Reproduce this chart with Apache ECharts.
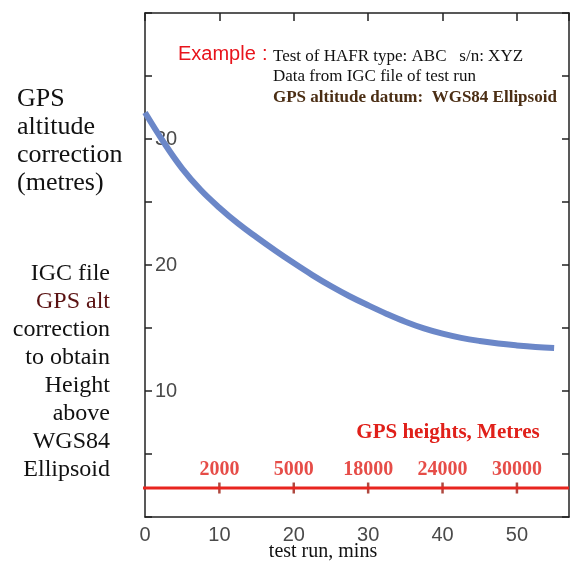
<!DOCTYPE html>
<html>
<head>
<meta charset="utf-8">
<script src="https://cdn.jsdelivr.net/npm/echarts@6/dist/echarts.min.js"></script>
<style>html,body{margin:0;padding:0;background:#fff}#c{width:572px;height:565px}</style>
</head>
<body>
<div id="c"></div>
<script>
// ---- data ----
const timeMins = [0, 2.5, 5, 7.5, 10, 12.5, 15, 17.5, 20, 22.5, 25, 27.5, 30, 32.5, 35, 37.5, 40, 42.5, 45, 47.5, 50, 52.5, 55];
const gpsCorrection = [32.1, 29.75, 27.65, 25.95, 24.55, 23.3, 22.2, 21.15, 20.15, 19.2, 18.32, 17.52, 16.8, 16.12, 15.5, 14.97, 14.55, 14.22, 13.97, 13.77, 13.62, 13.5, 13.42];
const heightTimes = [10, 20, 30, 40, 50];
const heightLabels = ['2000', '5000', '18000', '24000', '30000'];
const heightLineLevel = 2.3;
const heightLineX = [-0.4, 57];
const yLabelValues = [10, 20, 30];
const xTicks = [0, 10, 20, 30, 40, 50];
const titleLines = ['Test of HAFR type: ABC   s/n: XYZ', 'Data from IGC file of test run', 'GPS altitude datum:  WGS84 Ellipsoid'];
const leftTopLines = ['GPS', 'altitude', 'correction', '(metres)'];
const leftBottomLines = ['IGC file', 'GPS alt', 'correction', 'to obtain', 'Height', 'above', 'WGS84', 'Ellipsoid'];

const serif = '"Liberation Serif", "DejaVu Serif", serif';
const sans = '"Liberation Sans", Arial, sans-serif';

const chart = echarts.init(document.getElementById('c'), null, {renderer: 'canvas'});

const frame = {show: true, onZero: false, lineStyle: {color: '#222', width: 1.5}};
const tick = {show: true, inside: true, length: 7, lineStyle: {color: '#222', width: 1.5}};

const graphics = [];
graphics.push({type: 'text', left: 178, top: 44, style: {text: 'Example', font: '20px ' + sans, fill: '#e8141c'}});
graphics.push({type: 'text', left: 262, top: 44, style: {text: ':', font: '20px ' + sans, fill: '#e8141c'}});
titleLines.forEach((t, i) => {
  graphics.push({type: 'text', x: 273, y: 56.5 + i * 20.5, style: {text: t, font: (i === 2 ? 'bold ' : '') + '17px ' + serif, fill: i === 2 ? '#4b2e14' : '#111', verticalAlign: 'middle', align: 'left'}});
});
leftTopLines.forEach((t, i) => {
  graphics.push({type: 'text', x: 17, y: 99.5 + i * 28, style: {text: t, font: '26px ' + serif, fill: '#111', verticalAlign: 'middle', align: 'left'}});
});
leftBottomLines.forEach((t, i) => {
  graphics.push({type: 'text', x: 110, y: 274 + i * 27.9, style: {text: t, font: '24px ' + serif, fill: i === 1 ? '#5a1212' : '#111', verticalAlign: 'middle', align: 'right'}});
});
graphics.push({type: 'text', x: 448, y: 433, style: {text: 'GPS heights, Metres', font: 'bold 21px ' + serif, fill: '#e0201a', verticalAlign: 'middle', align: 'center'}});
graphics.push({type: 'text', x: 323, y: 552, style: {text: 'test run, mins', font: '20px ' + serif, fill: '#111', verticalAlign: 'middle', align: 'center'}});

chart.setOption({
  animation: false,
  backgroundColor: '#fff',
  grid: {left: 145, right: 3, top: 13, bottom: 48},
  xAxis: [
    {type: 'value', position: 'bottom', min: 0, max: 57, interval: 10,
      axisLine: frame, axisTick: {show: false}, splitLine: {show: false},
      axisLabel: {fontSize: 20, fontFamily: sans, color: '#4a4a4a', margin: 8,
        formatter: v => xTicks.includes(v) ? String(v) : ''}},
    {type: 'value', position: 'top', min: 0, max: 57, interval: 10,
      axisLine: frame, splitLine: {show: false},
      axisTick: Object.assign({}, tick, {length: 8}),
      axisLabel: {show: false}}
  ],
  yAxis: [
    {type: 'value', position: 'left', min: 0, max: 40, interval: 5,
      axisLine: frame, splitLine: {show: false}, axisTick: tick,
      axisLabel: {inside: true, margin: 10, fontSize: 20, fontFamily: sans, color: '#4a4a4a',
        formatter: v => yLabelValues.includes(v) ? String(v) : ''}},
    {type: 'value', position: 'right', min: 0, max: 40, interval: 5,
      axisLine: frame, splitLine: {show: false}, axisTick: tick,
      axisLabel: {show: false}}
  ],
  series: [
    {type: 'line', xAxisIndex: 0, yAxisIndex: 0, smooth: 0.4, showSymbol: false,
      data: timeMins.map((t, i) => [t, gpsCorrection[i]]),
      lineStyle: {color: '#6b87c8', width: 6}},
    {type: 'line', xAxisIndex: 0, yAxisIndex: 0, showSymbol: false, clip: false,
      data: heightLineX.map(x => [x, heightLineLevel]),
      lineStyle: {color: '#e8251f', width: 3}},
    {type: 'scatter', xAxisIndex: 0, yAxisIndex: 0, symbol: 'rect', symbolSize: [2.5, 11],
      itemStyle: {color: '#9b1c10'},
      data: heightTimes.map(t => [t, heightLineLevel]),
      label: {show: true, position: 'top', distance: 3,
        formatter: p => heightLabels[p.dataIndex],
        fontFamily: serif, fontWeight: 'bold', fontSize: 20, color: '#e0201a'}}
  ],
  graphic: graphics
});
</script>
</body>
</html>
